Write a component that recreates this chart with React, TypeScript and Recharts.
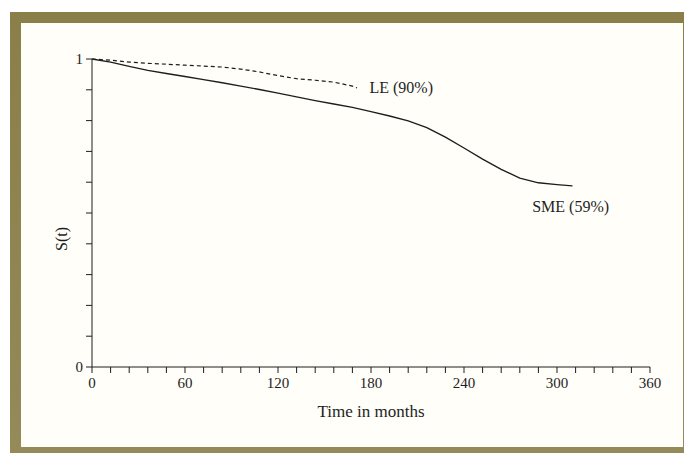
import React from "react";
import {
  LineChart,
  Line,
  XAxis,
  YAxis,
  ReferenceDot,
  Label,
} from "recharts";

// survival estimates (months, S(t))
const smeMonths = [0, 12, 24, 36, 48, 60, 72, 84, 96, 108, 120, 132, 144, 156, 168, 180, 192, 204, 216, 228, 240, 252, 264, 276, 288, 300, 310];
const smeSurvival = [1.0, 0.99, 0.976, 0.963, 0.953, 0.943, 0.933, 0.923, 0.912, 0.901, 0.889, 0.877, 0.865, 0.854, 0.843, 0.829, 0.815, 0.799, 0.777, 0.746, 0.711, 0.675, 0.642, 0.613, 0.598, 0.592, 0.588];

const leMonths = [0, 12, 24, 36, 48, 60, 72, 84, 96, 108, 120, 132, 144, 156, 168, 171];
const leSurvival = [1.0, 0.996, 0.99, 0.986, 0.983, 0.98, 0.977, 0.974, 0.967, 0.958, 0.946, 0.936, 0.931, 0.925, 0.912, 0.906];

const xTicks = [0, 12, 24, 36, 48, 60, 72, 84, 96, 108, 120, 132, 144, 156, 168, 180, 192, 204, 216, 228, 240, 252, 264, 276, 288, 300, 312, 324, 336, 348, 360];
const xLabelled = [0, 60, 120, 180, 240, 300, 360];
const yTicks = [0, 0.1, 0.2, 0.3, 0.4, 0.5, 0.6, 0.7, 0.8, 0.9, 1];
const yLabelled = [0, 1];

const sme = smeMonths.map((t, i) => ({ t, s: smeSurvival[i] }));
const le = leMonths.map((t, i) => ({ t, s: leSurvival[i] }));

const FONT = "'Liberation Serif', 'Times New Roman', serif";
const INK = "#1e1e1e";

const XTick = (props: any) => {
  const { x, y, payload } = props;
  if (!xLabelled.includes(payload.value)) return null;
  return (
    <text x={x} y={y + 13} textAnchor="middle" fontFamily={FONT} fontSize={15} fill={INK}>
      {payload.value}
    </text>
  );
};

const YTick = (props: any) => {
  const { x, y, payload } = props;
  if (!yLabelled.includes(payload.value)) return null;
  return (
    <text x={x - 1} y={y + 5} textAnchor="end" fontFamily={FONT} fontSize={15} fill={INK}>
      {payload.value}
    </text>
  );
};

const curveLabel = (text: string) => (props: any) => {
  const { viewBox } = props;
  return (
    <text x={viewBox.x} y={viewBox.y + 5} textAnchor="start" fontFamily={FONT} fontSize={16} fill={INK}>
      {text}
    </text>
  );
};

export default function App() {
  return (
    <div style={{ position: "absolute", left: 0, top: 0, width: 684, height: 453, background: "#fff", overflow: "hidden" }}>
      <div
        style={{
          position: "absolute",
          left: 10,
          top: 12,
          width: 674,
          height: 441,
          background: "linear-gradient(#8a7f48, #948a5a)",
        }}
      />
      <div style={{ position: "absolute", left: 21, top: 23, width: 662, height: 424, background: "#fffef9" }} />
      <div style={{ position: "absolute", left: 0, top: 0 }}>
        <LineChart width={684} height={453} margin={{ top: 59, right: 34, bottom: 56, left: 62 }}>
          <XAxis
            dataKey="t"
            type="number"
            domain={[0, 360]}
            ticks={xTicks}
            interval={0}
            tickSize={6}
            stroke={INK}
            tickLine={{ stroke: INK }}
            tick={<XTick />}
            height={30}
          >
            <Label
              content={(p: any) => (
                <text
                  x={p.viewBox.x + p.viewBox.width / 2}
                  y={p.viewBox.y + 50}
                  textAnchor="middle"
                  fontFamily={FONT}
                  fontSize={17}
                  fill={INK}
                >
                  Time in months
                </text>
              )}
            />
          </XAxis>
          <YAxis
            type="number"
            domain={[0, 1]}
            ticks={yTicks}
            interval={0}
            tickSize={6}
            stroke={INK}
            tickLine={{ stroke: INK }}
            tick={<YTick />}
            width={30}
          >
            <Label
              content={(p: any) => (
                <text
                  x={p.viewBox.x + 5}
                  y={p.viewBox.y + 180}
                  textAnchor="middle"
                  fontFamily={FONT}
                  fontSize={16}
                  fill={INK}
                  transform={`rotate(-90, ${p.viewBox.x + 5}, ${p.viewBox.y + 180})`}
                >
                  S(t)
                </text>
              )}
            />
          </YAxis>
          <Line
            data={sme}
            dataKey="s"
            type="linear"
            stroke={INK}
            strokeWidth={1.4}
            dot={false}
            isAnimationActive={false}
          />
          <Line
            data={le}
            dataKey="s"
            type="linear"
            stroke={INK}
            strokeWidth={1.2}
            strokeDasharray="4 3"
            dot={false}
            isAnimationActive={false}
          />
          <ReferenceDot x={179} y={0.906} r={0} fill="none" stroke="none" label={curveLabel("LE (90%)")} />
          <ReferenceDot x={284} y={0.52} r={0} fill="none" stroke="none" label={curveLabel("SME (59%)")} />
        </LineChart>
      </div>
    </div>
  );
}
